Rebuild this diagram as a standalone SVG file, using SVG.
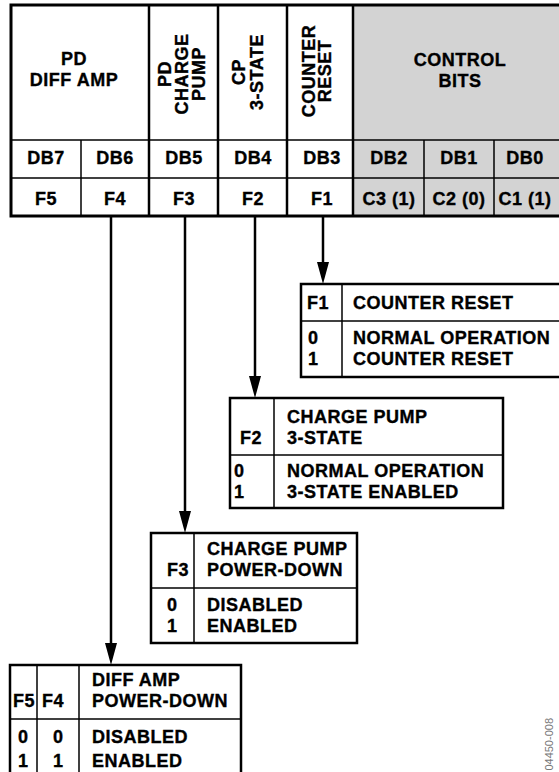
<svg xmlns="http://www.w3.org/2000/svg" width="559" height="772" viewBox="0 0 559 772">
<style>
.t{font-family:"Liberation Sans",Arial,Helvetica,sans-serif;font-weight:bold;font-size:18px;letter-spacing:0.5px;fill:#000;stroke:#000;stroke-width:0.35}
.c{text-anchor:middle}
.thick{stroke:#000;stroke-width:3;fill:none}
.mid{stroke:#000;stroke-width:2.5;fill:none}
.thin{stroke:#000;stroke-width:1.5;fill:none}
.conn{stroke:#000;stroke-width:2.5;fill:none}
.fig{font-family:"Liberation Sans",Arial,sans-serif;font-size:11px;fill:#777}
</style>
<defs>
<marker id="ah" markerUnits="userSpaceOnUse" markerWidth="22" markerHeight="12" viewBox="0 0 22 12" refX="12" refY="6" orient="auto">
<path d="M0,0 L22,6 L0,12 Z" fill="#000"/>
</marker>
</defs>
<g id="register-table">
<rect x="353" y="5" width="212" height="211" fill="#d3d3d3"/>
<line class="thin" x1="11" y1="140" x2="565" y2="140"/>
<line class="thin" x1="11" y1="178" x2="565" y2="178"/>
<line class="thin" x1="81" y1="140" x2="81" y2="216"/>
<line class="thin" x1="424" y1="140" x2="424" y2="216"/>
<line class="thin" x1="494" y1="140" x2="494" y2="216"/>
<line class="mid" x1="149" y1="5" x2="149" y2="216"/>
<line class="mid" x1="218" y1="5" x2="218" y2="216"/>
<line class="mid" x1="287" y1="5" x2="287" y2="216"/>
<line class="mid" x1="353" y1="5" x2="353" y2="216"/>
<rect class="thick" x="11" y="5" width="554" height="211"/>
<text class="t c" x="74" y="65">PD</text>
<text class="t c" x="74" y="86">DIFF AMP</text>
<g transform="translate(0,74)">
<text class="t c" transform="translate(171,0) rotate(-90)">PD</text>
<text class="t c" transform="translate(188,0) rotate(-90)">CHARGE</text>
<text class="t c" transform="translate(205,0) rotate(-90)">PUMP</text>
</g>
<g transform="translate(0,72)">
<text class="t c" transform="translate(245,0) rotate(-90)">CP</text>
<text class="t c" transform="translate(263,0) rotate(-90)">3-STATE</text>
</g>
<g transform="translate(0,71)">
<text class="t c" transform="translate(315,0) rotate(-90)">COUNTER</text>
<text class="t c" transform="translate(331,0) rotate(-90)">RESET</text>
</g>
<text class="t c" x="460" y="66">CONTROL</text>
<text class="t c" x="460" y="87">BITS</text>
<text class="t c" x="46" y="164">DB7</text>
<text class="t c" x="115" y="164">DB6</text>
<text class="t c" x="184" y="164">DB5</text>
<text class="t c" x="253" y="164">DB4</text>
<text class="t c" x="322" y="164">DB3</text>
<text class="t c" x="389" y="164">DB2</text>
<text class="t c" x="459" y="164">DB1</text>
<text class="t c" x="525" y="164">DB0</text>
<text class="t c" x="46" y="205">F5</text>
<text class="t c" x="115" y="205">F4</text>
<text class="t c" x="184" y="205">F3</text>
<text class="t c" x="253" y="205">F2</text>
<text class="t c" x="322" y="205">F1</text>
<text class="t c" x="389" y="205">C3 (1)</text>
<text class="t c" x="459" y="205">C2 (0)</text>
<text class="t c" x="525" y="205">C1 (1)</text>
</g>
<g id="connectors">
<line class="conn" x1="323" y1="217" x2="323" y2="274" marker-end="url(#ah)"/>
<line class="conn" x1="255" y1="217" x2="255" y2="388" marker-end="url(#ah)"/>
<line class="conn" x1="185" y1="217" x2="185" y2="523" marker-end="url(#ah)"/>
<line class="conn" x1="111" y1="217" x2="111" y2="655" marker-end="url(#ah)"/>
</g>
<g id="f1-box">
<rect class="mid" x="301" y="284" width="275" height="93"/>
<line class="thin" x1="342" y1="284" x2="342" y2="377"/>
<line class="thin" x1="301" y1="321" x2="576" y2="321"/>
<text class="t" x="307" y="309">F1</text>
<text class="t" x="353" y="309">COUNTER RESET</text>
<text class="t" x="308" y="344">0</text>
<text class="t" x="308" y="365">1</text>
<text class="t" x="353" y="344">NORMAL OPERATION</text>
<text class="t" x="353" y="365">COUNTER RESET</text>
</g>
<g id="f2-box">
<rect class="mid" x="230" y="398" width="273" height="110"/>
<line class="thin" x1="274" y1="398" x2="274" y2="508"/>
<line class="thin" x1="230" y1="455" x2="503" y2="455"/>
<text class="t" x="287" y="423">CHARGE PUMP</text>
<text class="t" x="287" y="444">3-STATE</text>
<text class="t" x="240" y="444">F2</text>
<text class="t" x="234" y="477">0</text>
<text class="t" x="234" y="498">1</text>
<text class="t" x="287" y="477">NORMAL OPERATION</text>
<text class="t" x="287" y="498">3-STATE ENABLED</text>
</g>
<g id="f3-box">
<rect class="mid" x="151" y="533" width="206" height="110"/>
<line class="thin" x1="194" y1="533" x2="194" y2="643"/>
<line class="thin" x1="151" y1="588" x2="357" y2="588"/>
<text class="t" x="207" y="555">CHARGE PUMP</text>
<text class="t" x="207" y="576">POWER-DOWN</text>
<text class="t" x="167" y="576">F3</text>
<text class="t" x="167" y="611">0</text>
<text class="t" x="167" y="632">1</text>
<text class="t" x="207" y="611">DISABLED</text>
<text class="t" x="207" y="632">ENABLED</text>
</g>
<g id="f5-f4-box">
<rect class="mid" x="10" y="665" width="231" height="125"/>
<line class="thin" x1="37" y1="665" x2="37" y2="790"/>
<line class="thin" x1="79" y1="665" x2="79" y2="790"/>
<line class="thin" x1="10" y1="719" x2="241" y2="719"/>
<text class="t" x="92" y="686">DIFF AMP</text>
<text class="t" x="92" y="707">POWER-DOWN</text>
<text class="t" x="13" y="707">F5</text>
<text class="t" x="42" y="707">F4</text>
<text class="t" x="18" y="743">0</text>
<text class="t" x="18" y="767">1</text>
<text class="t" x="53" y="743">0</text>
<text class="t" x="53" y="767">1</text>
<text class="t" x="92" y="743">DISABLED</text>
<text class="t" x="92" y="767">ENABLED</text>
</g>
<text class="fig" text-anchor="end" transform="translate(553,718) rotate(-90)">04450-008</text>
</svg>
